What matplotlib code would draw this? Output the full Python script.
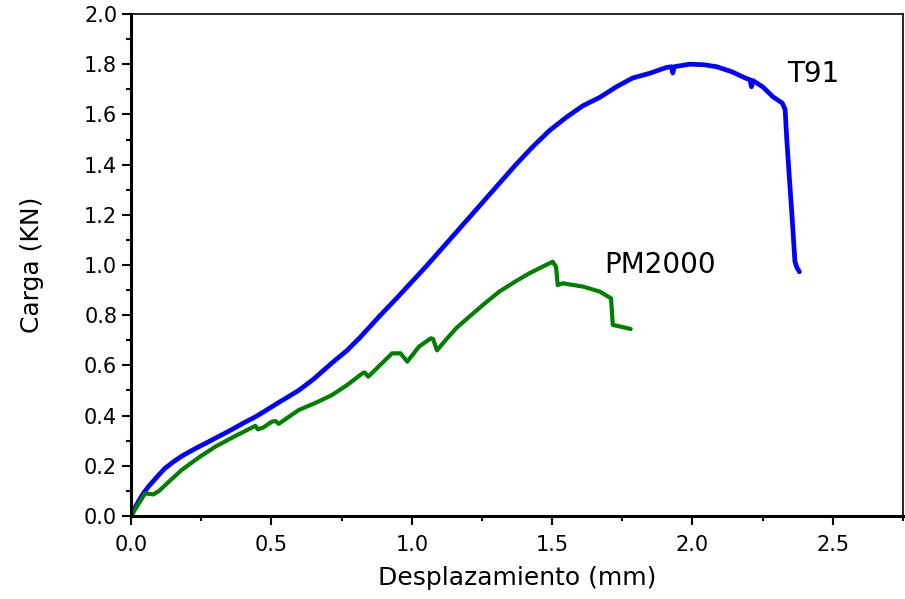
import matplotlib
matplotlib.use("Agg")
import matplotlib.pyplot as plt
from matplotlib.ticker import MultipleLocator, FormatStrFormatter

plt.rcParams['font.family'] = ['DejaVu Sans']

# T91 load-displacement curve
t91_x = [0, 0.015, 0.03, 0.045, 0.062, 0.08, 0.10, 0.121, 0.15, 0.18, 0.21, 0.24,
         0.27, 0.30, 0.33, 0.36, 0.40, 0.443, 0.48, 0.52, 0.56, 0.597, 0.65,
         0.716, 0.77, 0.818, 0.88, 0.949, 1.05, 1.133, 1.234, 1.30, 1.371, 1.43,
         1.49, 1.55, 1.609, 1.67, 1.729, 1.787, 1.848, 1.907, 1.925, 1.93, 1.935,
         1.99, 2.04, 2.086, 2.14, 2.19, 2.205, 2.21, 2.215, 2.25, 2.287, 2.32,
         2.33, 2.336, 2.345, 2.354, 2.365, 2.372, 2.381]
t91_y = [0, 0.035, 0.065, 0.092, 0.117, 0.14, 0.165, 0.19, 0.215, 0.238, 0.257, 0.275,
         0.292, 0.31, 0.327, 0.345, 0.37, 0.395, 0.42, 0.448, 0.475, 0.50, 0.545,
         0.61, 0.66, 0.714, 0.79, 0.871, 0.993, 1.098, 1.226, 1.31, 1.40, 1.47,
         1.535, 1.588, 1.634, 1.668, 1.71, 1.745, 1.764, 1.787, 1.79, 1.765, 1.79,
         1.80, 1.798, 1.79, 1.77, 1.744, 1.738, 1.71, 1.735, 1.71, 1.67, 1.645,
         1.62, 1.50, 1.35, 1.206, 1.013, 0.99, 0.973]

# PM2000 load-displacement curve
pm_x = [0, 0.05, 0.065, 0.08, 0.10, 0.14, 0.18, 0.24, 0.30, 0.37, 0.443, 0.452,
        0.47, 0.502, 0.515, 0.526, 0.597, 0.66, 0.716, 0.77, 0.824, 0.832, 0.845,
        0.93, 0.96, 0.984, 1.026, 1.068, 1.076, 1.09, 1.12, 1.16, 1.205, 1.26,
        1.312, 1.37, 1.419, 1.46, 1.502, 1.514, 1.52, 1.538, 1.61, 1.67, 1.71,
        1.716, 1.734, 1.78]
pm_y = [0, 0.09, 0.088, 0.086, 0.10, 0.142, 0.183, 0.232, 0.276, 0.318, 0.359, 0.345,
        0.352, 0.376, 0.378, 0.367, 0.422, 0.452, 0.482, 0.522, 0.568, 0.572, 0.555,
        0.648, 0.648, 0.615, 0.675, 0.708, 0.705, 0.66, 0.70, 0.75, 0.794, 0.847,
        0.894, 0.935, 0.967, 0.99, 1.013, 0.993, 0.92, 0.927, 0.914, 0.894, 0.867,
        0.761, 0.757, 0.745]

fig = plt.figure(figsize=(9.05, 5.99), dpi=100)
ax = fig.add_axes([0.1448, 0.1386, 0.8530, 0.8380])

ax.plot(t91_x, t91_y, color='#0000ff', lw=3.4, solid_joinstyle='round', solid_capstyle='round')
ax.plot(pm_x, pm_y, color='#008000', lw=3.0, solid_joinstyle='round', solid_capstyle='round')

ax.text(2.336, 1.730, 'T91', fontsize=20, va='baseline', ha='left')
ax.text(1.687, 0.969, 'PM2000', fontsize=20, va='baseline', ha='left')

ax.set_xlim(0, 2.75)
ax.set_ylim(0, 2.0)
ax.xaxis.set_major_locator(MultipleLocator(0.5))
ax.xaxis.set_minor_locator(MultipleLocator(0.25))
ax.yaxis.set_major_locator(MultipleLocator(0.2))
ax.yaxis.set_minor_locator(MultipleLocator(0.1))
ax.xaxis.set_major_formatter(FormatStrFormatter('%.1f'))
ax.yaxis.set_major_formatter(FormatStrFormatter('%.1f'))

ax.tick_params(which='major', direction='out', length=6.5, width=1.5, labelsize=15)
ax.tick_params(axis='x', which='major', pad=7)
ax.tick_params(axis='y', which='major', pad=3.5)
ax.tick_params(which='minor', direction='out', length=3.5, width=1.5)

for s in ['left', 'bottom']:
    ax.spines[s].set_linewidth(2.2)
for s in ['top', 'right']:
    ax.spines[s].set_linewidth(1.2)

ax.set_xlabel('Desplazamiento (mm)', fontsize=18, labelpad=8)
ax.set_ylabel('Carga (KN)', fontsize=18)
ax.yaxis.set_label_coords(-0.113, 0.5)

fig.savefig('out.png', dpi=100)
